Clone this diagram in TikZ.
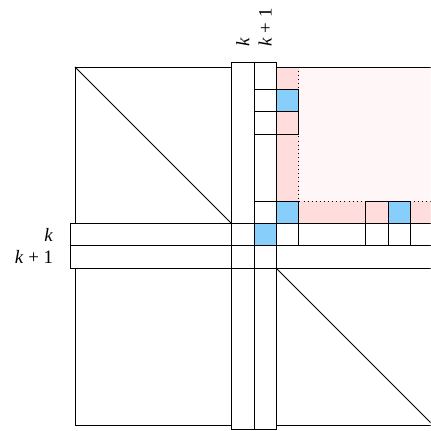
\documentclass[tikz,border=0pt]{standalone}
\usepackage{fontspec}
\setmainfont{Liberation Serif}
\usetikzlibrary{calc, positioning}
\definecolor{cellblue}{RGB}{135,206,250}
\definecolor{bandpink}{RGB}{255,221,221}
\definecolor{innerpink}{RGB}{255,247,247}
\begin{document}
\begin{tikzpicture}[scale=0.5,
  cell/.style={draw, line width=0.6pt},
  bar/.style={line width=0.6pt},
  lbl/.style={font=\fontsize{12}{14}\selectfont, inner sep=2pt}]
\def\n{16}
\def\ext{0.22}
\def\kk{7}
\useasboundingbox (-3.35,-0.27) rectangle (15.89,18.99);
\clip (-3.35,-0.27) rectangle (15.89,18.99);

\coordinate (SW) at (0,0);
\coordinate (NE) at (\n,\n);
\coordinate (NW) at (0,\n);
\coordinate (SE) at (\n,0);

% pink block
\fill[innerpink] (9,9) rectangle (\n,\n);
\fill[bandpink] (9,9) rectangle (10,\n);
\fill[bandpink] (9,9) rectangle (\n,10);
\draw[dotted, line width=0.6pt] (10,\n) -- (10,10) -- (\n,10);

\draw[line width=0.5pt] (SW) rectangle (NE);
\draw[line width=0.5pt] (NW) -- (\kk,\kk+2);
\draw[line width=0.5pt] (\kk+2,\kk) -- (SE);

% bars for k and k+1
\fill[white] (\kk,-\ext) rectangle (\kk+2,\n+\ext);
\fill[white] (-\ext,\kk) rectangle (\n+\ext,\kk+2);
\foreach \i in {0,1} {
  \draw[bar] (\kk+\i,-\ext) rectangle (\kk+\i+1,\n+\ext);
  \draw[bar] (-\ext,\kk+\i) rectangle (\n+\ext,\kk+\i+1);
}

% cells
\foreach \x/\y/\c in {8/14/white, 9/14/cellblue, 8/13/white, 9/13/bandpink,
    8/9/white, 9/9/cellblue, 9/8/white, 13/9/bandpink, 14/9/cellblue,
    13/8/white, 14/8/white, 8/8/cellblue}
  \draw[cell, fill=\c] (\x,\y) rectangle (\x+1,\y+1);

\node[lbl, rotate=90, anchor=west] (topk) at (\kk+0.5,16.75) {\textit{k}};
\node[lbl, rotate=90, anchor=west] (topkone) at (\kk+1.5,16.75) {\textit{k} + 1};
\node[lbl, anchor=east] (leftk) at (-0.82,\kk+1.5) {\textit{k}};
\node[lbl, anchor=east] (leftkone) at (-0.82,\kk+0.5) {\textit{k} + 1};
\end{tikzpicture}
\end{document}
